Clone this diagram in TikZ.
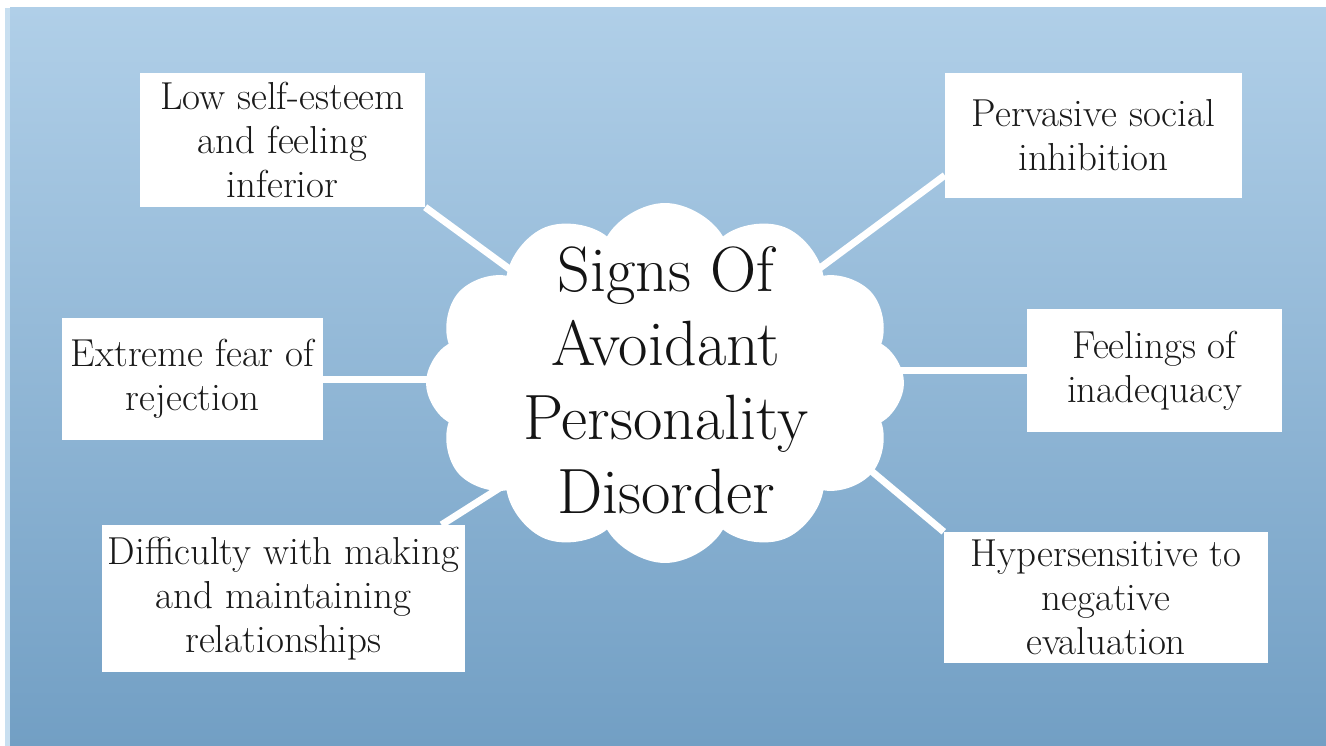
\documentclass[tikz,border=0pt]{standalone}
\usetikzlibrary{shapes.symbols,backgrounds}
\definecolor{skytop}{HTML}{B0CFE8}
\definecolor{skybot}{HTML}{729FC4}
\definecolor{skyedge}{HTML}{C8DFF0}
\definecolor{inkgray}{HTML}{1A1A1A}
\begin{document}
\begin{tikzpicture}[x=1pt, y=-1pt,
	puff/.style={fill=white, cloud, cloud puffs=12, cloud puff arc=120, aspect=1.33,
		minimum width=478, minimum height=360, inner sep=0},
	headline/.style={font=\fontsize{64}{74}\selectfont, text=black!92, align=center, inner sep=0},
	card/.style={fill=white, align=center, inner sep=0, text=inkgray,
		font=\fontsize{39}{44}\selectfont},
	link/.style={white, line width=7pt}]
\useasboundingbox (0,0) rectangle (1326,746);

\node[puff] (core) at (665,383) {};
\node[headline] (head) at (666,380) {Signs Of\\Avoidant\\Personality\\Disorder};

\node[card, minimum width=285, minimum height=134] (low) at (282.5,140) {Low self-esteem\\and feeling\\inferior};
\node[card, minimum width=297, minimum height=125] (inhib) at (1093.5,135.5) {Pervasive social\\inhibition};
\node[card, minimum width=261, minimum height=122] (fear) at (192.5,379) {Extreme fear of\\rejection};
\node[card, minimum width=255, minimum height=123] (feel) at (1154.5,370.5) {Feelings of\\inadequacy};
\node[card, minimum width=363, minimum height=147] (diff) at (283.5,598.5) {Difficulty with making\\and maintaining\\relationships};
\node[card, minimum width=324, minimum height=131] (hyper) at (1106,597.5) {Hypersensitive to\\negative\\evaluation};

\begin{scope}[on background layer]
	\fill[white] (0,0) rectangle (1326,746);
	\fill[skyedge] (5,8) rectangle (10,746);
	\shade[top color=skytop, bottom color=skybot] (10,8) rectangle (1326,746);
	\draw[link] (low.south east) -- (core.center);
	\draw[link] (inhib.195) -- (core.center);
	\draw[link] (fear.east) -- (fear.east -| core.center);
	\draw[link] (core.center |- feel.west) -- (feel.west);
	\draw[link] (diff.25) -- (core.center);
	\draw[link] (hyper.north west) -- ([yshift=85pt]core.center);
\end{scope}
\end{tikzpicture}
\end{document}
